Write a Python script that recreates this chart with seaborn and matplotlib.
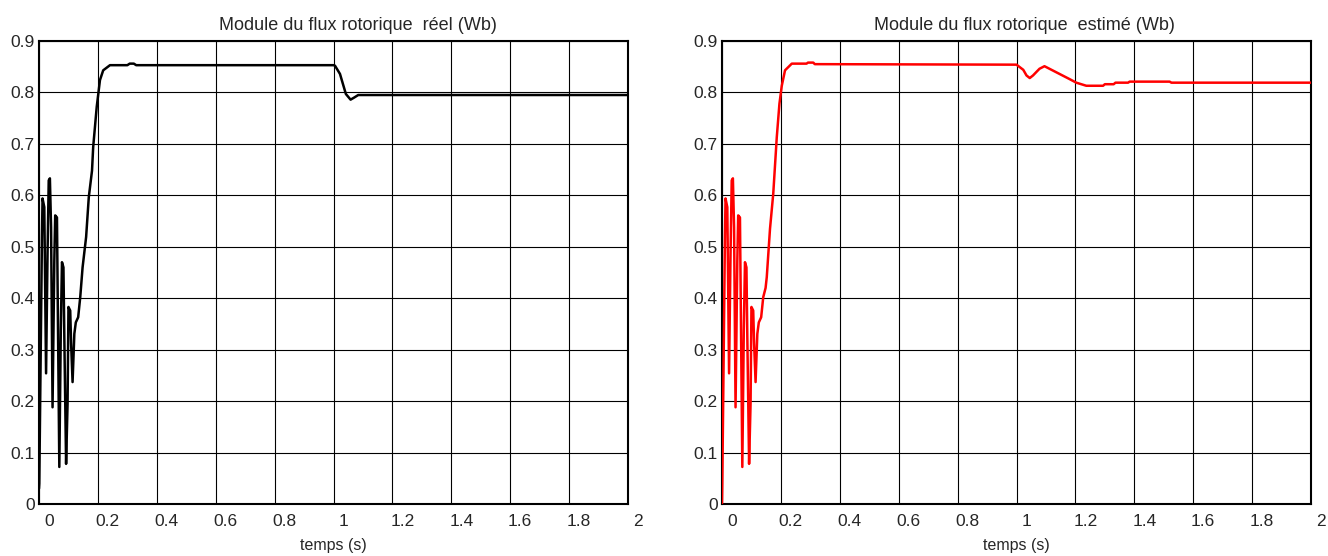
import numpy as np
import pandas as pd
import matplotlib
matplotlib.use("Agg")
import matplotlib.pyplot as plt
import matplotlib.transforms as mtransforms
import seaborn as sns

# --- data ---
osc_t = [0.001, 0.006, 0.010, 0.012, 0.018, 0.024, 0.029, 0.033, 0.037, 0.041,
         0.046, 0.052, 0.055, 0.061, 0.063, 0.069, 0.074, 0.078, 0.083, 0.086,
         0.092, 0.097, 0.100, 0.106, 0.109, 0.114, 0.120, 0.125, 0.133, 0.140]
osc_y = [0.040, 0.305, 0.519, 0.594, 0.577, 0.254, 0.487, 0.629, 0.633, 0.538,
         0.188, 0.473, 0.561, 0.557, 0.434, 0.072, 0.337, 0.470, 0.460, 0.324,
         0.078, 0.195, 0.383, 0.376, 0.312, 0.237, 0.331, 0.353, 0.363, 0.402]

real_t = [0.0] + osc_t + [0.148, 0.160, 0.169, 0.180, 0.184, 0.196, 0.207, 0.218, 0.241,
                          0.300, 0.308, 0.322, 0.330, 1.000, 1.005, 1.022, 1.042, 1.058,
                          1.070, 1.084, 2.000]
real_y = [0.030] + osc_y + [0.460, 0.519, 0.596, 0.648, 0.694, 0.772, 0.824, 0.843, 0.853,
                            0.853, 0.856, 0.856, 0.853, 0.853, 0.852, 0.836, 0.797, 0.786,
                            0.790, 0.795, 0.795]

est_t = [0.0] + osc_t + [0.148, 0.152, 0.163, 0.174, 0.186, 0.195, 0.203, 0.214, 0.237,
                         0.287, 0.292, 0.310, 0.315, 1.000, 1.023, 1.034, 1.045, 1.056,
                         1.078, 1.095, 1.112, 1.146, 1.180, 1.203, 1.237, 1.294, 1.300,
                         1.330, 1.336, 1.379, 1.384, 1.520, 1.526, 2.000]
est_y = [0.0] + osc_y + [0.420, 0.441, 0.535, 0.603, 0.713, 0.778, 0.813, 0.843, 0.856,
                         0.856, 0.858, 0.858, 0.855, 0.854, 0.844, 0.833, 0.828, 0.833,
                         0.846, 0.851, 0.846, 0.836, 0.826, 0.819, 0.813, 0.813, 0.816,
                         0.816, 0.819, 0.819, 0.821, 0.821, 0.819, 0.819]

x_ticks = [0, 0.2, 0.4, 0.6, 0.8, 1.0, 1.2, 1.4, 1.6, 1.8, 2.0]
x_labels = ["0", "0.2", "0.4", "0.6", "0.8", "1", "1.2", "1.4", "1.6", "1.8", "2"]
y_ticks = [0, 0.1, 0.2, 0.3, 0.4, 0.5, 0.6, 0.7, 0.8, 0.9]
y_labels = ["0", "0.1", "0.2", "0.3", "0.4", "0.5", "0.6", "0.7", "0.8", "0.9"]

titles = ["Module du flux rotorique  réel (Wb)", "Module du flux rotorique  estimé (Wb)"]
xlabel = "temps (s)"

sns.set_style("white")
plt.rcParams['font.family'] = ['Liberation Sans', 'DejaVu Sans']

fig = plt.figure(figsize=(13.28, 5.56), dpi=100)
W, H = 1328, 556
ax1 = fig.add_axes([39 / W, 52 / H, 589 / W, 463 / H])
ax2 = fig.add_axes([722 / W, 52 / H, 589 / W, 463 / H])

df1 = pd.DataFrame({"t": real_t, "y": real_y})
df2 = pd.DataFrame({"t": est_t, "y": est_y})

sns.lineplot(data=df1, x="t", y="y", ax=ax1, color="black", linewidth=1.8,
             estimator=None, sort=False, zorder=3)
sns.lineplot(data=df2, x="t", y="y", ax=ax2, color="#ff0000", linewidth=1.8,
             estimator=None, sort=False, zorder=3)

title_x = [0.542, 0.513]
for ax, title, tx in zip([ax1, ax2], titles, title_x):
    ax.set_xlim(0, 2)
    ax.set_ylim(0, 0.9)
    ax.set_xticks(x_ticks)
    ax.set_xticklabels(x_labels, fontsize=12.5)
    ax.set_yticks(y_ticks)
    ax.set_yticklabels(y_labels, fontsize=12.5)
    ax.grid(True, color="black", linewidth=0.8, linestyle="-")
    ax.set_axisbelow(True)
    for s in ax.spines.values():
        s.set_visible(True)
        s.set_color("black")
        s.set_linewidth(1.5)
    ax.tick_params(axis="both", length=0, pad=3)
    ax.tick_params(axis="x", pad=7)
    ax.set_xlabel(xlabel, fontsize=11.5, labelpad=7)
    ax.set_ylabel("")
    ax.set_title(title, fontsize=13, x=tx, pad=8)
    offset = mtransforms.ScaledTranslation(10 / 100, 0, fig.dpi_scale_trans)
    for lbl in ax.get_xticklabels():
        lbl.set_transform(lbl.get_transform() + offset)

fig.savefig("out.png", dpi=100, facecolor="white")
